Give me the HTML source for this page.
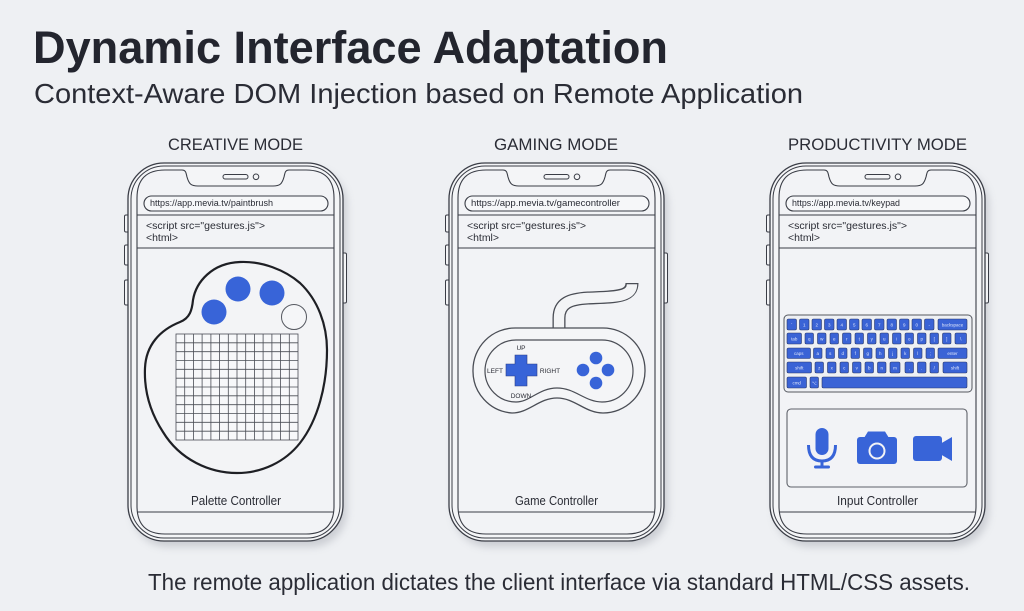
<!DOCTYPE html>
<html><head><meta charset="utf-8">
<style>
html,body{margin:0;padding:0;background:#eef0f3;}
svg{display:block;}
text{font-family:"Liberation Sans",sans-serif;}
</style></head>
<body>
<svg width="1024" height="611" viewBox="0 0 1024 611" xmlns="http://www.w3.org/2000/svg">
<defs>
  <filter id="sh" x="-20%" y="-20%" width="140%" height="140%"><feGaussianBlur stdDeviation="4"/></filter>
  <g id="phone">
    <rect x="4" y="6" width="215" height="378" rx="36" fill="#8d919b" opacity="0.35" filter="url(#sh)"/>
    <rect x="-3.5" y="52" width="4.5" height="17" rx="1.5" fill="#f4f5f7" stroke="#3a3d46" stroke-width="1"/>
    <rect x="-3.5" y="82" width="4.5" height="20" rx="1.5" fill="#f4f5f7" stroke="#3a3d46" stroke-width="1"/>
    <rect x="-3.5" y="117" width="4.5" height="25" rx="1.5" fill="#f4f5f7" stroke="#3a3d46" stroke-width="1"/>
    <rect x="214" y="90" width="4.5" height="50" rx="1.5" fill="#f4f5f7" stroke="#3a3d46" stroke-width="1"/>
    <rect x="0" y="0" width="215" height="378" rx="36" fill="#f4f5f7" stroke="#3a3d46" stroke-width="1.3"/>
    <rect x="3" y="3" width="209" height="372" rx="33" fill="none" stroke="#3a3d46" stroke-width="1"/>
    <path d="M 9,35 Q 9,7 37,7 L 54,7 C 58,7 58,10 59,14 C 61,21 63,23 70,23 L 145,23 C 152,23 154,21 156,14 C 157,10 157,7 161,7 L 178,7 Q 206,7 206,35 L 206,343 Q 206,371 178,371 L 37,371 Q 9,371 9,343 Z" fill="#f2f3f6" stroke="#3a3d46" stroke-width="1.1"/>
    <rect x="95" y="11.5" width="25" height="4.5" rx="2.25" fill="none" stroke="#3a3d46" stroke-width="1"/>
    <circle cx="128" cy="13.8" r="2.8" fill="none" stroke="#3a3d46" stroke-width="1"/>
    <rect x="16" y="33" width="184" height="15" rx="7.5" fill="#f6f7f9" stroke="#3a3d46" stroke-width="1.1"/>
    <line x1="9" y1="52" x2="206" y2="52" stroke="#3a3d46" stroke-width="1"/>
    <line x1="9" y1="85" x2="206" y2="85" stroke="#3a3d46" stroke-width="1"/>
    <line x1="9" y1="349" x2="206" y2="349" stroke="#3a3d46" stroke-width="1"/>
  </g>
</defs>

<!-- Header -->
<text x="33" y="63" font-size="45" font-weight="bold" fill="#23252e" textLength="635" lengthAdjust="spacingAndGlyphs">Dynamic Interface Adaptation</text>
<text x="34" y="103" font-size="28" fill="#2a2c35" textLength="769" lengthAdjust="spacingAndGlyphs">Context-Aware DOM Injection based on Remote Application</text>

<text x="168" y="150" font-size="17" fill="#2a2c35" textLength="135" lengthAdjust="spacingAndGlyphs">CREATIVE MODE</text>
<text x="494" y="150" font-size="17" fill="#2a2c35" textLength="124" lengthAdjust="spacingAndGlyphs">GAMING MODE</text>
<text x="788" y="150" font-size="17" fill="#2a2c35" textLength="179" lengthAdjust="spacingAndGlyphs">PRODUCTIVITY MODE</text>

<!-- Phones -->
<use href="#phone" x="128" y="163"/>
<use href="#phone" x="449" y="163"/>
<use href="#phone" x="770" y="163"/>

<!-- Phone texts -->
<g fill="#2a2c35">
<text x="150" y="206" font-size="9.5" textLength="123" lengthAdjust="spacingAndGlyphs">https://app.mevia.tv/paintbrush</text>
<text x="146" y="229" font-size="10.5" textLength="119" lengthAdjust="spacingAndGlyphs">&lt;script src="gestures.js"&gt;</text>
<text x="146" y="241" font-size="10.5" textLength="32" lengthAdjust="spacingAndGlyphs">&lt;html&gt;</text>
<text x="191" y="505" font-size="13" textLength="90" lengthAdjust="spacingAndGlyphs">Palette Controller</text>

<text x="471" y="206" font-size="9.5" textLength="149" lengthAdjust="spacingAndGlyphs">https://app.mevia.tv/gamecontroller</text>
<text x="467" y="229" font-size="10.5" textLength="119" lengthAdjust="spacingAndGlyphs">&lt;script src="gestures.js"&gt;</text>
<text x="467" y="241" font-size="10.5" textLength="32" lengthAdjust="spacingAndGlyphs">&lt;html&gt;</text>
<text x="515" y="505" font-size="13" textLength="83" lengthAdjust="spacingAndGlyphs">Game Controller</text>

<text x="792" y="206" font-size="9.5" textLength="108" lengthAdjust="spacingAndGlyphs">https://app.mevia.tv/keypad</text>
<text x="788" y="229" font-size="10.5" textLength="119" lengthAdjust="spacingAndGlyphs">&lt;script src="gestures.js"&gt;</text>
<text x="788" y="241" font-size="10.5" textLength="32" lengthAdjust="spacingAndGlyphs">&lt;html&gt;</text>
<text x="837" y="505" font-size="13" textLength="81" lengthAdjust="spacingAndGlyphs">Input Controller</text>
</g>

<!-- Phone 1: palette -->
<path d="M 240,262 C 262,261 285,270 300,283 C 318,300 327,325 327,350 C 327,385 318,420 300,443 C 285,462 262,473 237,473 C 210,473 180,460 163,432 C 150,412 144,390 145,368 C 146,345 160,330 180,322 C 190,318 192,310 193,300 C 196,282 212,263 240,262 Z" fill="#f3f4f6" stroke="#1e1f24" stroke-width="2.2"/>
<circle cx="214" cy="312" r="12.5" fill="#3864d8"/>
<circle cx="238" cy="289" r="12.5" fill="#3864d8"/>
<circle cx="272" cy="293" r="12.5" fill="#3864d8"/>
<circle cx="294" cy="317" r="12.5" fill="#f5f6f8" stroke="#555860" stroke-width="1"/>
<g stroke="#4a4d55" stroke-width="0.8" fill="none">
<rect x="176" y="334" width="122" height="106" fill="#f7f8fa"/>
<path d="M184.7,334V440M193.4,334V440M202.1,334V440M210.9,334V440M219.6,334V440M228.3,334V440M237,334V440M245.7,334V440M254.4,334V440M263.1,334V440M271.9,334V440M280.6,334V440M289.3,334V440"/>
<path d="M176,342.8H298M176,351.7H298M176,360.5H298M176,369.3H298M176,378.2H298M176,387H298M176,395.8H298M176,404.7H298M176,413.5H298M176,422.3H298M176,431.2H298"/>
</g>

<!-- Phone 2: gamepad -->
<path d="M 559,334 L 559,318 C 559,303 570,299 588,298 C 612,297 632,298 632,283" fill="none" stroke="#4a4d55" stroke-width="13"/>
<path d="M 559,336 L 559,318 C 559,303 570,299 588,298 C 612,297 632,298 632,284.2" fill="none" stroke="#f3f4f6" stroke-width="10.4"/>
<path d="M 515,328 L 603,328 A 42,42 0 0 1 645,370 A 42,42 0 0 1 603,413 C 585,413 575,398 557,398 C 539,398 529,413 512,413 A 42,42 0 0 1 473,370 A 42,42 0 0 1 515,328 Z" fill="#f4f5f7" stroke="#4a4d55" stroke-width="1.3"/>
<path d="M 516,340 L 602,340 A 31,31 0 0 1 633,371 A 31,31 0 0 1 602,402 C 585,402 575,388 557,388 C 539,388 530,402 516,402 A 31,31 0 0 1 485,371 A 31,31 0 0 1 516,340 Z" fill="none" stroke="#4a4d55" stroke-width="1.2"/>
<path d="M 515,355 H 527 V 364 H 537 V 376 H 527 V 386 H 515 V 376 H 506 V 364 H 515 Z" fill="#3864d8" stroke="#2b3f86" stroke-width="0.6"/>
<g fill="#2a2c35" font-size="6.5" text-anchor="middle">
<text x="521" y="350">UP</text>
<text x="495" y="373">LEFT</text>
<text x="550" y="373">RIGHT</text>
<text x="521" y="398">DOWN</text>
</g>
<circle cx="596" cy="358" r="6.3" fill="#3864d8"/>
<circle cx="583" cy="370" r="6.3" fill="#3864d8"/>
<circle cx="608" cy="370" r="6.3" fill="#3864d8"/>
<circle cx="596" cy="383" r="6.3" fill="#3864d8"/>

<!-- Phone 3: keyboard -->
<rect x="784" y="315" width="188" height="77" rx="4" fill="#eef0f4" stroke="#55585f" stroke-width="1"/>
<g fill="#3a63d6" stroke="#2b3a6a" stroke-width="0.6">
<rect x="787" y="319" width="9.5" height="11" rx="1.5"/><rect x="799.5" y="319" width="9.5" height="11" rx="1.5"/><rect x="812" y="319" width="9.5" height="11" rx="1.5"/><rect x="824.5" y="319" width="9.5" height="11" rx="1.5"/><rect x="837" y="319" width="9.5" height="11" rx="1.5"/><rect x="849.5" y="319" width="9.5" height="11" rx="1.5"/><rect x="862" y="319" width="9.5" height="11" rx="1.5"/><rect x="874.5" y="319" width="9.5" height="11" rx="1.5"/><rect x="887" y="319" width="9.5" height="11" rx="1.5"/><rect x="899.5" y="319" width="9.5" height="11" rx="1.5"/><rect x="912" y="319" width="9.5" height="11" rx="1.5"/><rect x="924.5" y="319" width="9.5" height="11" rx="1.5"/><rect x="938" y="319" width="29" height="11" rx="1.5"/>
<rect x="787" y="333" width="14.5" height="11" rx="1.5"/><rect x="805" y="333" width="8.5" height="11" rx="1.5"/><rect x="817.5" y="333" width="8.5" height="11" rx="1.5"/><rect x="830" y="333" width="8.5" height="11" rx="1.5"/><rect x="842.5" y="333" width="8.5" height="11" rx="1.5"/><rect x="855" y="333" width="8.5" height="11" rx="1.5"/><rect x="867.5" y="333" width="8.5" height="11" rx="1.5"/><rect x="880" y="333" width="8.5" height="11" rx="1.5"/><rect x="892.5" y="333" width="8.5" height="11" rx="1.5"/><rect x="905" y="333" width="8.5" height="11" rx="1.5"/><rect x="917.5" y="333" width="8.5" height="11" rx="1.5"/><rect x="930" y="333" width="8.5" height="11" rx="1.5"/><rect x="942.5" y="333" width="8.5" height="11" rx="1.5"/><rect x="955" y="333" width="11.5" height="11" rx="1.5"/>
<rect x="787" y="348" width="23.5" height="10.5" rx="1.5"/><rect x="813.5" y="348" width="8.5" height="10.5" rx="1.5"/><rect x="826" y="348" width="8.5" height="10.5" rx="1.5"/><rect x="838.5" y="348" width="8.5" height="10.5" rx="1.5"/><rect x="851" y="348" width="8.5" height="10.5" rx="1.5"/><rect x="863.5" y="348" width="8.5" height="10.5" rx="1.5"/><rect x="876" y="348" width="8.5" height="10.5" rx="1.5"/><rect x="888.5" y="348" width="8.5" height="10.5" rx="1.5"/><rect x="901" y="348" width="8.5" height="10.5" rx="1.5"/><rect x="913.5" y="348" width="8.5" height="10.5" rx="1.5"/><rect x="926" y="348" width="8.5" height="10.5" rx="1.5"/><rect x="938" y="348" width="29" height="10.5" rx="1.5"/>
<rect x="787" y="362" width="24.5" height="11" rx="1.5"/><rect x="815" y="362" width="8.5" height="11" rx="1.5"/><rect x="827.5" y="362" width="8.5" height="11" rx="1.5"/><rect x="840" y="362" width="8.5" height="11" rx="1.5"/><rect x="852.5" y="362" width="8.5" height="11" rx="1.5"/><rect x="865" y="362" width="8.5" height="11" rx="1.5"/><rect x="877.5" y="362" width="8.5" height="11" rx="1.5"/><rect x="890" y="362" width="10" height="11" rx="1.5"/><rect x="905" y="362" width="8.5" height="11" rx="1.5"/><rect x="917.5" y="362" width="8.5" height="11" rx="1.5"/><rect x="930" y="362" width="8.5" height="11" rx="1.5"/><rect x="943" y="362" width="24" height="11" rx="1.5"/>
<rect x="787" y="377" width="19.5" height="11" rx="1.5"/><rect x="810" y="377" width="8.5" height="11" rx="1.5"/><rect x="822" y="377" width="145" height="11" rx="1.5"/>
</g>
<g fill="#dfe6fb" font-size="4.5" text-anchor="middle">
<text x="791.7" y="326.5">`</text><text x="804.2" y="326.5">1</text><text x="816.7" y="326.5">2</text><text x="829.2" y="326.5">3</text><text x="841.7" y="326.5">4</text><text x="854.2" y="326.5">5</text><text x="866.7" y="326.5">6</text><text x="879.2" y="326.5">7</text><text x="891.7" y="326.5">8</text><text x="904.2" y="326.5">9</text><text x="916.7" y="326.5">0</text><text x="929.2" y="326.5">-</text><text x="952.5" y="326.5">backspace</text>
<text x="794.2" y="340.5">tab</text><text x="809.2" y="340.5">q</text><text x="821.7" y="340.5">w</text><text x="834.2" y="340.5">e</text><text x="846.7" y="340.5">r</text><text x="859.2" y="340.5">t</text><text x="871.7" y="340.5">y</text><text x="884.2" y="340.5">u</text><text x="896.7" y="340.5">i</text><text x="909.2" y="340.5">o</text><text x="921.7" y="340.5">p</text><text x="934.2" y="340.5">[</text><text x="946.7" y="340.5">]</text><text x="960.7" y="340.5">\</text>
<text x="798.7" y="355">caps</text><text x="817.7" y="355">a</text><text x="830.2" y="355">s</text><text x="842.7" y="355">d</text><text x="855.2" y="355">f</text><text x="867.7" y="355">g</text><text x="880.2" y="355">h</text><text x="892.7" y="355">j</text><text x="905.2" y="355">k</text><text x="917.7" y="355">l</text><text x="930.2" y="355">;</text><text x="952.5" y="355">enter</text>
<text x="799.2" y="369.5">shift</text><text x="819.2" y="369.5">z</text><text x="831.7" y="369.5">x</text><text x="844.2" y="369.5">c</text><text x="856.7" y="369.5">v</text><text x="869.2" y="369.5">b</text><text x="881.7" y="369.5">n</text><text x="895" y="369.5">m</text><text x="909.2" y="369.5">,</text><text x="921.7" y="369.5">.</text><text x="934.2" y="369.5">/</text><text x="955" y="369.5">shift</text>
<text x="796.7" y="384.5">cmd</text><text x="814.2" y="384.5">⌥</text>
</g>

<!-- Input controller -->
<rect x="787" y="409" width="180" height="78" rx="4" fill="none" stroke="#5f626a" stroke-width="1.1"/>
<rect x="815.5" y="428" width="13" height="27" rx="6.5" fill="#3864d8"/>
<path d="M 808.5,445 Q 808.5,461 822,461 Q 835.5,461 835.5,445" fill="none" stroke="#3864d8" stroke-width="3"/>
<line x1="822" y1="461" x2="822" y2="466" stroke="#3864d8" stroke-width="3"/>
<line x1="815.5" y1="467" x2="828.5" y2="467" stroke="#3864d8" stroke-width="3" stroke-linecap="round"/>
<path d="M 864,438 L 868,431.5 L 885,431.5 L 889,438 Z" fill="#3864d8"/>
<rect x="857" y="437" width="40" height="27" rx="3" fill="#3864d8"/>
<circle cx="877" cy="451" r="7.5" fill="#3864d8" stroke="#f2f3f6" stroke-width="2"/>
<rect x="913" y="436" width="29" height="25" rx="3" fill="#3864d8"/>
<path d="M 940,444 L 952,437 L 952,461 L 940,454 Z" fill="#3864d8"/>

<!-- Footer -->
<text x="148" y="590" font-size="23" fill="#2a2c35" textLength="822" lengthAdjust="spacingAndGlyphs">The remote application dictates the client interface via standard HTML/CSS assets.</text>
</svg>
</body></html>
